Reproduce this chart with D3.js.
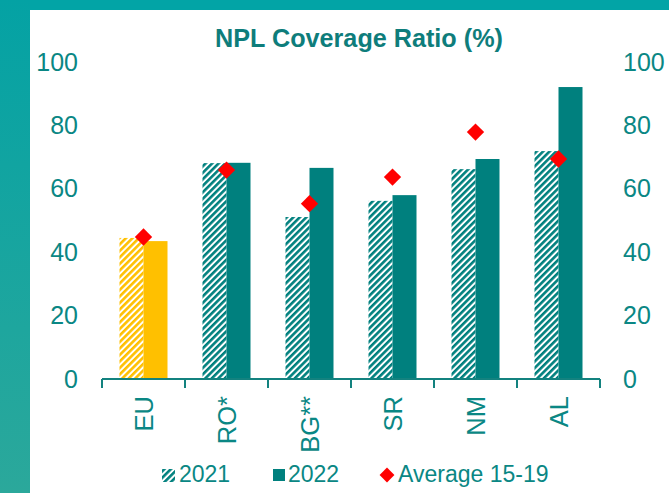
<!DOCTYPE html>
<html>
<head>
<meta charset="utf-8">
<script src="https://cdn.jsdelivr.net/npm/d3@7"></script>
<style>
  body { margin: 0; background: #fff; }
  text { font-family: "Liberation Sans", Arial, sans-serif; }
</style>
</head>
<body>
<svg id="chart" width="669" height="493"></svg>
<script>
// values
const categories = ["EU", "RO*", "BG**", "SR", "NM", "AL"]
const values2021 = [44.5, 68.1, 51.1, 56.2, 66.2, 71.9]
const values2022 = [43.5, 68.2, 66.6, 58.0, 69.4, 92.1]
const average1519 = [44.8, 65.9, 55.3, 63.7, 77.9, 69.4]
const yTicks = [0, 20, 40, 60, 80, 100]

const teal = "#00807e"
const textTeal = "#0a8784"
const gold = "#ffc000"

const svg = d3.select("#chart")

// frame: teal border on top and left
const defs = svg.append("defs")
const grad = defs.append("linearGradient").attr("id", "side").attr("x1", 0).attr("x2", 0).attr("y1", 0).attr("y2", 1)
grad.append("stop").attr("offset", "0%").attr("stop-color", "#04a2a4")
grad.append("stop").attr("offset", "100%").attr("stop-color", "#2ba89b")

svg.append("rect").attr("x", 0).attr("y", 0).attr("width", 669).attr("height", 10).attr("fill", "#02a4a6")
svg.append("rect").attr("x", 0).attr("y", 0).attr("width", 30).attr("height", 493).attr("fill", "url(#side)")

// hatch patterns for 2021
function hatch(id, color) {
  const p = defs.append("pattern")
    .attr("id", id)
    .attr("patternUnits", "userSpaceOnUse")
    .attr("width", 4.6).attr("height", 4.6)
    .attr("patternTransform", "rotate(45)")
  p.append("rect").attr("width", 4.6).attr("height", 4.6).attr("fill", "#fff")
  p.append("rect").attr("width", 2.6).attr("height", 4.6).attr("fill", color)
}
hatch("hatchTeal", teal)
hatch("hatchGold", gold)

const x = d3.scaleBand().domain(categories).range([102, 600])
const barW = 24
const x1 = d3.scaleBand().domain(["2021", "2022"])
  .range([x.bandwidth() / 2 - barW, x.bandwidth() / 2 + barW])
const y = d3.scaleLinear().domain([0, 100]).range([379, 62])

// title
svg.append("text")
  .attr("x", 359).attr("y", 47)
  .attr("text-anchor", "middle")
  .attr("font-size", 25.2)
  .attr("font-weight", "bold")
  .attr("fill", "#0e7d7b")
  .text("NPL Coverage Ratio (%)")

// y axes, labels only
const yLeft = svg.append("g").attr("transform", "translate(78,0)")
  .call(d3.axisLeft(y).tickValues(yTicks).tickSize(0).tickPadding(0))
const yRight = svg.append("g").attr("transform", "translate(623,0)")
  .call(d3.axisRight(y).tickValues(yTicks).tickSize(0).tickPadding(0))
;[yLeft, yRight].forEach(g => {
  g.select(".domain").remove()
  g.selectAll("text").attr("font-size", 25).attr("fill", textTeal)
    .style("font-family", '"Liberation Sans", Arial, sans-serif')
})

// bars
const rows = categories.map((c, i) => ({ c, i, v21: values2021[i], v22: values2022[i], avg: average1519[i] }))

const groups = svg.append("g").selectAll("g")
  .data(rows)
  .enter().append("g")
  .attr("transform", d => "translate(" + x(d.c) + ",0)")

groups.append("rect")
  .attr("x", x1("2021"))
  .attr("y", d => y(d.v21))
  .attr("width", x1.bandwidth())
  .attr("height", d => y(0) - y(d.v21))
  .attr("fill", d => d.c === "EU" ? "url(#hatchGold)" : "url(#hatchTeal)")

groups.append("rect")
  .attr("x", x1("2022"))
  .attr("y", d => y(d.v22))
  .attr("width", x1.bandwidth())
  .attr("height", d => y(0) - y(d.v22))
  .attr("fill", d => d.c === "EU" ? gold : teal)

// x axis line with ticks at category boundaries
const axisColor = "#13827f"
svg.append("line")
  .attr("x1", x.range()[0]).attr("x2", x.range()[1])
  .attr("y1", y(0)).attr("y2", y(0))
  .attr("stroke", axisColor).attr("stroke-width", 2)
const bounds = categories.map(c => x(c)).concat([x.range()[1]])
svg.append("g").selectAll("line")
  .data(bounds)
  .enter().append("line")
  .attr("x1", d => d).attr("x2", d => d)
  .attr("y1", y(0)).attr("y2", y(0) + 9)
  .attr("stroke", axisColor).attr("stroke-width", 2)

// average markers
svg.append("g").selectAll("path")
  .data(rows)
  .enter().append("path")
  .attr("d", d3.symbol().type(d3.symbolSquare).size(150))
  .attr("transform", d => "translate(" + (x(d.c) + x.bandwidth() / 2) + "," + y(d.avg) + ") rotate(45)")
  .attr("fill", "#ff0000")

// category labels, rotated
svg.append("g").selectAll("text")
  .data(categories)
  .enter().append("text")
  .attr("transform", d => "translate(" + (x(d) + x.bandwidth() / 2) + ",396) rotate(-90)")
  .attr("text-anchor", "end")
  .attr("dy", "0.36em")
  .attr("font-size", 25.5)
  .attr("fill", textTeal)
  .text(d => d)

// legend
const legend = svg.append("g").attr("transform", "translate(0,482)")
legend.append("rect").attr("x", 162).attr("y", -13).attr("width", 13).attr("height", 13).attr("fill", "url(#hatchTeal)")
legend.append("text").attr("x", 179).attr("font-size", 23).attr("fill", textTeal).text("2021")
legend.append("rect").attr("x", 273).attr("y", -13).attr("width", 12).attr("height", 12).attr("fill", teal)
legend.append("text").attr("x", 288).attr("font-size", 23).attr("fill", textTeal).text("2022")
legend.append("path")
  .attr("d", d3.symbol().type(d3.symbolSquare).size(110))
  .attr("transform", "translate(387,-7) rotate(45)")
  .attr("fill", "#ff0000")
legend.append("text").attr("x", 398).attr("font-size", 23).attr("fill", textTeal).text("Average 15-19")
</script>
</body>
</html>
